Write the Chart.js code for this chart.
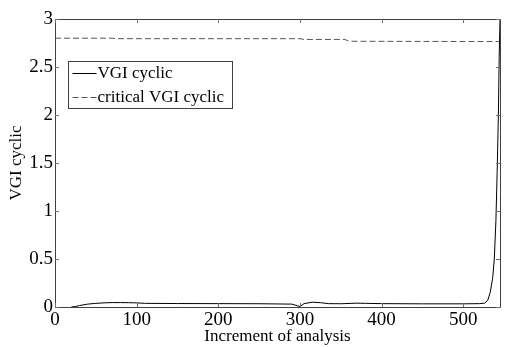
<!DOCTYPE html>
<html>
<head>
<meta charset="utf-8">
<script src="https://cdn.jsdelivr.net/npm/chart.js@4/dist/chart.umd.min.js"></script>
<style>
  html, body { margin: 0; padding: 0; background: #fff; }
  #wrap { width: 510px; height: 347px; }
</style>
</head>
<body>
<div id="wrap"><canvas id="myChart"></canvas></div>
<script>
// increment of analysis vs. VGI cyclic
let increments = [20, 25, 30, 40, 50, 60, 70, 80, 90, 100, 110, 150, 200, 250, 290, 300, 305, 315, 325, 335, 350, 370, 380, 400, 450, 500, 520, 526, 530, 533, 536, 538, 540, 541.5, 543, 544, 545, 546];
let vgiCyclic = [0, 0.005, 0.015, 0.03, 0.038, 0.043, 0.046, 0.046, 0.045, 0.043, 0.038, 0.036, 0.035, 0.034, 0.03, 0.005, 0.035, 0.05, 0.045, 0.035, 0.034, 0.04, 0.038, 0.035, 0.033, 0.033, 0.035, 0.04, 0.07, 0.15, 0.3, 0.5, 0.9, 1.4, 2.0, 2.6, 3.0, 3.2];

let critIncrements = [0, 70, 75, 300, 305, 355, 360, 545];
let critVgiCyclic = [2.8, 2.8, 2.795, 2.795, 2.787, 2.787, 2.768, 2.765];

let xTicks = [0, 100, 200, 300, 400, 500];
let yTicks = [0, 0.5, 1, 1.5, 2, 2.5, 3];
let seriesNames = ['VGI cyclic', 'critical VGI cyclic'];

let serif = "'Liberation Serif', 'Times New Roman', serif";
let axisColor = '#404040';

function toPoints(xs, ys) {
	let pts = [];
	for(let i = 0; i < xs.length; i++) {
		pts.push({x: xs[i], y: ys[i]});
	}
	return pts;
}

// box round the plot, ticks pointing inward on all four sides
const boxTicks = {
	id: 'boxTicks',
	afterDraw(chart) {
		let c = chart.ctx;
		let a = chart.chartArea;
		let xs = chart.scales.x, ys = chart.scales.y;
		c.save();
		c.strokeStyle = axisColor;
		c.lineWidth = 1;
		c.beginPath();
		c.rect(Math.round(a.left) + 0.5, Math.round(a.top) + 0.5, Math.round(a.right - a.left), Math.round(a.bottom - a.top));
		c.stroke();
		c.strokeStyle = '#707070';
		c.beginPath();
		xTicks.forEach(v => {
			let px = Math.round(xs.getPixelForValue(v)) + 0.5;
			c.moveTo(px, a.bottom); c.lineTo(px, a.bottom - 4);
			c.moveTo(px, a.top); c.lineTo(px, a.top + 4);
		});
		yTicks.forEach(v => {
			let py = Math.round(ys.getPixelForValue(v)) + 0.5;
			c.moveTo(a.left, py); c.lineTo(a.left + 4, py);
			c.moveTo(a.right, py); c.lineTo(a.right - 4, py);
		});
		c.stroke();
		c.restore();
	}
};

// legend box drawn inside the plot, upper left
const boxLegend = {
	id: 'boxLegend',
	afterDraw(chart) {
		let c = chart.ctx;
		let a = chart.chartArea;
		let bx = Math.round(a.left + 13) + 0.5, by = Math.round(a.top + 42) + 0.5;
		let bw = 164, bh = 47;
		c.save();
		c.fillStyle = '#fff';
		c.fillRect(bx, by, bw, bh);
		c.strokeStyle = axisColor;
		c.lineWidth = 1;
		c.strokeRect(bx, by, bw, bh);
		c.font = '17px ' + serif;
		c.textBaseline = 'middle';
		chart.data.datasets.forEach((ds, i) => {
			let ly = by + 12 + i * 24;
			c.strokeStyle = ds.borderColor;
			c.setLineDash(ds.borderDash || []);
			c.beginPath();
			c.moveTo(bx + 4, ly); c.lineTo(bx + 28, ly);
			c.stroke();
			c.setLineDash([]);
			c.fillStyle = '#000';
			c.fillText(ds.label, bx + 29, ly);
		});
		c.restore();
	}
};

let ctx = document.getElementById('myChart');
let myChart = new Chart(ctx, {
	type: 'line',
	data: {
		datasets: [{
			label: seriesNames[0],
			data: toPoints(increments, vgiCyclic),
			borderColor: '#000',
			borderWidth: 1,
			pointRadius: 0,
			tension: 0
		}, {
			label: seriesNames[1],
			data: toPoints(critIncrements, critVgiCyclic),
			borderColor: '#555',
			borderWidth: 1,
			borderDash: [6, 3],
			pointRadius: 0,
			tension: 0
		}]
	},
	options: {
		responsive: true,
		maintainAspectRatio: false,
		animation: false,
		layout: { padding: { top: 19, right: 10, left: 0, bottom: 0 } },
		plugins: { legend: { display: false }, tooltip: { enabled: false } },
		scales: {
			x: {
				type: 'linear',
				min: 0,
				max: 545,
				afterBuildTicks: s => { s.ticks = xTicks.map(v => ({value: v})); },
				afterFit: s => { s.height = 40; },
				grid: { display: false, drawTicks: false },
				border: { display: false },
				ticks: { color: '#000', padding: 2, maxRotation: 0, font: { family: serif, size: 19 }, callback: v => String(v) },
				title: { display: true, text: 'Increment of analysis', color: '#000', padding: 0, font: { family: serif, size: 17 } }
			},
			y: {
				min: 0,
				max: 3,
				afterBuildTicks: s => { s.ticks = yTicks.map(v => ({value: v})); },
				afterFit: s => { s.width = 55; },
				grid: { display: false, drawTicks: false },
				border: { display: false },
				ticks: { color: '#000', padding: 2, font: { family: serif, size: 19 }, callback: v => String(v) },
				title: { display: true, text: 'VGI cyclic', color: '#000', padding: { top: 6, bottom: 0 }, font: { family: serif, size: 17 } }
			}
		}
	},
	plugins: [boxTicks, boxLegend]
});
</script>
</body>
</html>
